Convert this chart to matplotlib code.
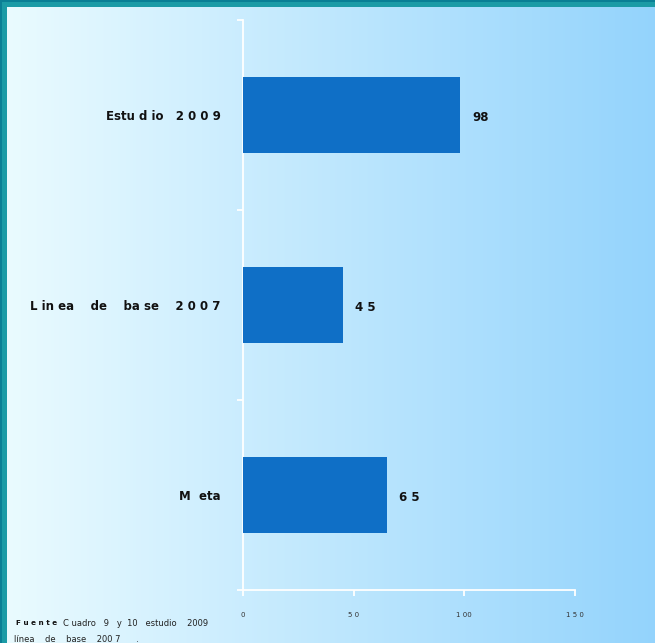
import numpy as np
import matplotlib
matplotlib.use("Agg")
import matplotlib.pyplot as plt
from matplotlib.patches import Rectangle

# data
categories = ["M  eta", "L in ea    de    ba se    2 0 0 7", "Estu d io   2 0 0 9"]
values = [65, 45, 98]
value_labels = ["6 5", "4 5", "98"]
xticks = [0, 50, 100, 150]
xtick_labels = ["0", "5 0", "1 00", "1 5 0"]

BAR = "#0f6fc6"
TEAL = "#1b9ba6"

fig = plt.figure(figsize=(6.55, 6.43), dpi=100)

# background gradient, near white on the left to light blue on the right
bg = fig.add_axes([0, 0, 1, 1], zorder=0)
grad = np.linspace(0, 1, 256)[None, :]
c0 = np.array([0.92, 0.985, 1.0])
c1 = np.array([0.58, 0.83, 0.99])
img = c0[None, None, :] * (1 - grad[..., None]) + c1[None, None, :] * grad[..., None]
bg.imshow(img, aspect="auto", extent=[0, 1, 0, 1])
bg.set_xlim(0, 1); bg.set_ylim(0, 1)
bg.axis("off")

# teal frame on top and left
bg.add_patch(Rectangle((0, 1 - 7/643), 1, 7/643, color=TEAL, lw=0))
bg.add_patch(Rectangle((0, 0), 7/655, 1, color=TEAL, lw=0))
bg.add_patch(Rectangle((0, 1 - 2/643), 1, 2/643, color="#0a7f95", lw=0))
bg.add_patch(Rectangle((0, 0), 2/655, 1, color="#0a7f95", lw=0))

ax = fig.add_axes([243/655, 1 - 590/643, 332/655, 570/643], zorder=1)
ax.patch.set_alpha(0)
y = np.arange(len(categories))
ax.barh(y, values, height=0.4, color=BAR, zorder=3)
for yi, v, lab in zip(y, values, value_labels):
    ax.text(v + 5.5, yi - 0.015, lab, va="center", ha="left", fontsize=8.5,
            fontweight="bold", color="#111111")

ax.set_xlim(0, 150)
ax.set_ylim(-0.5, 2.5)
for s in ["top", "right"]:
    ax.spines[s].set_visible(False)
for s in ["left", "bottom"]:
    ax.spines[s].set_color("white")
    ax.spines[s].set_linewidth(1.3)

ax.set_xticks(xticks)
ax.set_xticklabels(xtick_labels, fontsize=5, color="#333333")
ax.tick_params(axis="x", colors="white", length=4, width=1.3, pad=12,
               labelcolor="#333333")

ax.set_yticks(y)
ax.set_yticklabels(categories, fontsize=8.5, fontweight="bold", color="#111111",
                   va="center_baseline")
ax.tick_params(axis="y", length=0, pad=16)
ax.set_yticks([-0.5, 0.5, 1.5, 2.5], minor=True)
ax.tick_params(axis="y", which="minor", colors="white", length=4, width=1.3)

fig.text(16/655, 1 - 623/643, "F u e n t e", fontsize=5.2, fontweight="bold",
         color="#111111", va="center")
fig.text(63/655, 1 - 623/643, "C uadro   9   y  10   estudio    2009", fontsize=6,
         color="#222222", va="center")
fig.text(14/655, 1 - 639/643, "línea    de    base    200 7      .", fontsize=6,
         color="#222222", va="center")

fig.savefig("out.png", dpi=100)
